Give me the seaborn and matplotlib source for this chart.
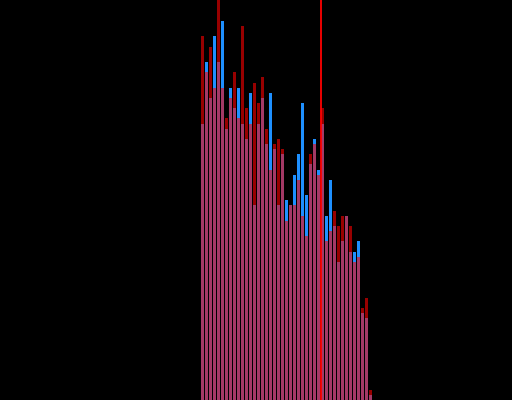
import numpy as np
import pandas as pd
import matplotlib
matplotlib.use("Agg")
import matplotlib.pyplot as plt
import seaborn as sns

# ---- data ----
bin_index = list(range(43))
blue_counts = [54, 66, 59, 71, 66, 74, 53, 61, 57, 61,
               54, 51, 60, 38, 54, 59, 50, 60, 49, 38,
               48, 39, 38, 44, 48, 58, 40, 46, 51, 45,
               54, 36, 43, 34, 27, 31, 36, 29, 29, 31,
               17, 16, 1]
red_counts = [71, 64, 69, 61, 79, 61, 55, 59, 64, 55,
              73, 57, 54, 62, 58, 63, 53, 45, 50, 51,
              49, 35, 38, 38, 43, 36, 32, 48, 50, 44,
              57, 31, 33, 37, 34, 36, 36, 34, 27, 28,
              18, 20, 2]
marker_x = 30

df_blue = pd.DataFrame({"bin": [b + 0.5 for b in bin_index], "count": blue_counts})
df_red = pd.DataFrame({"bin": [b + 0.5 for b in bin_index], "count": red_counts})

sns.set_style("dark")
fig = plt.figure(figsize=(5.12, 4.0), dpi=100, facecolor="black")
ax = fig.add_axes([0, 0, 1, 1])
ax.set_facecolor("black")

sns.histplot(data=df_blue, x="bin", weights="count", binwidth=1,
             binrange=(0, len(bin_index)), shrink=0.75,
             color="#1E90FF", alpha=1.0, linewidth=0, ax=ax)
sns.histplot(data=df_red, x="bin", weights="count", binwidth=1,
             binrange=(0, len(bin_index)), shrink=0.75,
             color="#FF0000", alpha=0.6, linewidth=0, ax=ax)
ax.axvline(marker_x, color="#FF0000", linewidth=1.3, zorder=10)

ax.set_xlim(-50.125, 77.875)
ax.set_ylim(0, 78.125)
ax.set_axis_off()

fig.savefig("out.png", dpi=100, facecolor="black")
